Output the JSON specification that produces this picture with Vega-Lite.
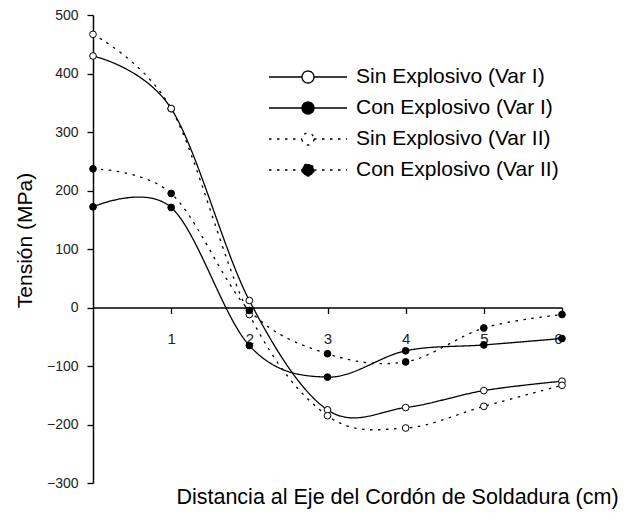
{
  "$schema": "https://vega.github.io/schema/vega-lite/v6.json",
  "autosize": "none",
  "width": 469,
  "height": 468,
  "padding": {"left": 93, "top": 15, "right": 62, "bottom": 39},
  "background": "white",
  "config": {
    "view": {"stroke": null},
    "font": "Liberation Sans",
    "axis": {"grid": false, "labelFont": "Liberation Sans", "titleFont": "Liberation Sans", "titleFontWeight": "normal", "domainColor": "black", "tickColor": "black", "titleColor": "black", "labelColor": "#222"}
  },
  "data": {
    "values": [
      {"series": "Sin Explosivo (Var I)", "x": 0, "y": 430},
      {"series": "Sin Explosivo (Var I)", "x": 1, "y": 340},
      {"series": "Sin Explosivo (Var I)", "x": 2, "y": 12},
      {"series": "Sin Explosivo (Var I)", "x": 3, "y": -175},
      {"series": "Sin Explosivo (Var I)", "x": 4, "y": -171},
      {"series": "Sin Explosivo (Var I)", "x": 5, "y": -142},
      {"series": "Sin Explosivo (Var I)", "x": 6, "y": -126},
      {"series": "Con Explosivo (Var I)", "x": 0, "y": 172},
      {"series": "Con Explosivo (Var I)", "x": 1, "y": 171},
      {"series": "Con Explosivo (Var I)", "x": 2, "y": -65},
      {"series": "Con Explosivo (Var I)", "x": 3, "y": -119},
      {"series": "Con Explosivo (Var I)", "x": 4, "y": -74},
      {"series": "Con Explosivo (Var I)", "x": 5, "y": -64},
      {"series": "Con Explosivo (Var I)", "x": 6, "y": -53},
      {"series": "Sin Explosivo (Var II)", "x": 0, "y": 467},
      {"series": "Sin Explosivo (Var II)", "x": 1, "y": 340},
      {"series": "Sin Explosivo (Var II)", "x": 2, "y": -12},
      {"series": "Sin Explosivo (Var II)", "x": 3, "y": -185},
      {"series": "Sin Explosivo (Var II)", "x": 4, "y": -206},
      {"series": "Sin Explosivo (Var II)", "x": 5, "y": -169},
      {"series": "Sin Explosivo (Var II)", "x": 6, "y": -133},
      {"series": "Con Explosivo (Var II)", "x": 0, "y": 237},
      {"series": "Con Explosivo (Var II)", "x": 1, "y": 195},
      {"series": "Con Explosivo (Var II)", "x": 2, "y": -5},
      {"series": "Con Explosivo (Var II)", "x": 3, "y": -79},
      {"series": "Con Explosivo (Var II)", "x": 4, "y": -93},
      {"series": "Con Explosivo (Var II)", "x": 5, "y": -35},
      {"series": "Con Explosivo (Var II)", "x": 6, "y": -12}
    ]
  },
  "encoding": {
    "x": {
      "field": "x", "type": "quantitative",
      "scale": {"domain": [0, 6], "nice": false, "zero": false},
      "axis": {
        "values": [1, 2, 3, 4, 5, 6],
        "offset": {"expr": "scale('y', 0) - height"},
        "domainWidth": 1.5, "tickSize": 6, "tickWidth": 1.3,
        "labelPadding": 18, "labelFontSize": 15,
        "title": "Distancia al Eje del Cordón de Soldadura (cm)",
        "titleFontSize": 21.5, "titleX": 304, "titleY": 196,
        "titleBaseline": "alphabetic", "titleAlign": "center"
      }
    },
    "y": {
      "field": "y", "type": "quantitative",
      "scale": {"domain": [-300, 500], "nice": false, "zero": false},
      "axis": {
        "values": [-300, -200, -100, 0, 100, 200, 300, 400, 500],
        "domainWidth": 1.5, "tickSize": 6, "tickWidth": 1.3,
        "labelPadding": 9, "labelFontSize": 14,
        "title": "Tensión (MPa)", "titleFontSize": 21,
        "titleX": -68, "titleY": 225, "titleAngle": 270,
        "titleBaseline": "middle", "titleAlign": "center"
      }
    }
  },
  "layer": [
    {
      "mark": {"type": "line", "interpolate": "cardinal", "tension": 0, "color": "black", "strokeWidth": 1.3},
      "encoding": {
        "strokeDash": {
          "field": "series", "type": "nominal",
          "scale": {
            "domain": ["Sin Explosivo (Var I)", "Con Explosivo (Var I)", "Sin Explosivo (Var II)", "Con Explosivo (Var II)"],
            "range": [[1, 0], [1, 0], [2.5, 5.5], [2.5, 5.5]]
          },
          "legend": {
            "title": null, "orient": "none", "legendX": 204, "legendY": 51, "padding": 0,
            "symbolType": "M-3.9,0H-0.6M0.6,0H3.9M0.6,0A0.6,0.6,0,1,1,-0.6,0A0.6,0.6,0,1,1,0.6,0Z",
            "symbolSize": 400, "symbolStrokeColor": "black", "symbolStrokeWidth": 1.3, "symbolOffset": 0,
            "labelFont": "Liberation Sans", "labelFontSize": 21, "labelColor": "black", "labelOffset": 37, "rowPadding": 10, "labelLimit": 400
          }
        }
      }
    },
    {
      "mark": {"type": "circle", "size": 45, "stroke": "black", "strokeWidth": 1, "opacity": 1},
      "encoding": {
        "fill": {
          "field": "series", "type": "nominal",
          "scale": {
            "domain": ["Sin Explosivo (Var I)", "Con Explosivo (Var I)", "Sin Explosivo (Var II)", "Con Explosivo (Var II)"],
            "range": ["white", "black", "white", "black"]
          },
          "legend": {
            "title": null, "orient": "none", "legendX": 204, "legendY": 51, "padding": 0,
            "symbolType": "M-3.9,0H-0.6M0.6,0H3.9M0.6,0A0.6,0.6,0,1,1,-0.6,0A0.6,0.6,0,1,1,0.6,0Z",
            "symbolSize": 400, "symbolStrokeColor": "black", "symbolStrokeWidth": 1.3, "symbolOffset": 0,
            "labelFont": "Liberation Sans", "labelFontSize": 21, "labelColor": "black", "labelOffset": 37, "rowPadding": 10, "labelLimit": 400
          }
        }
      }
    }
  ]
}
